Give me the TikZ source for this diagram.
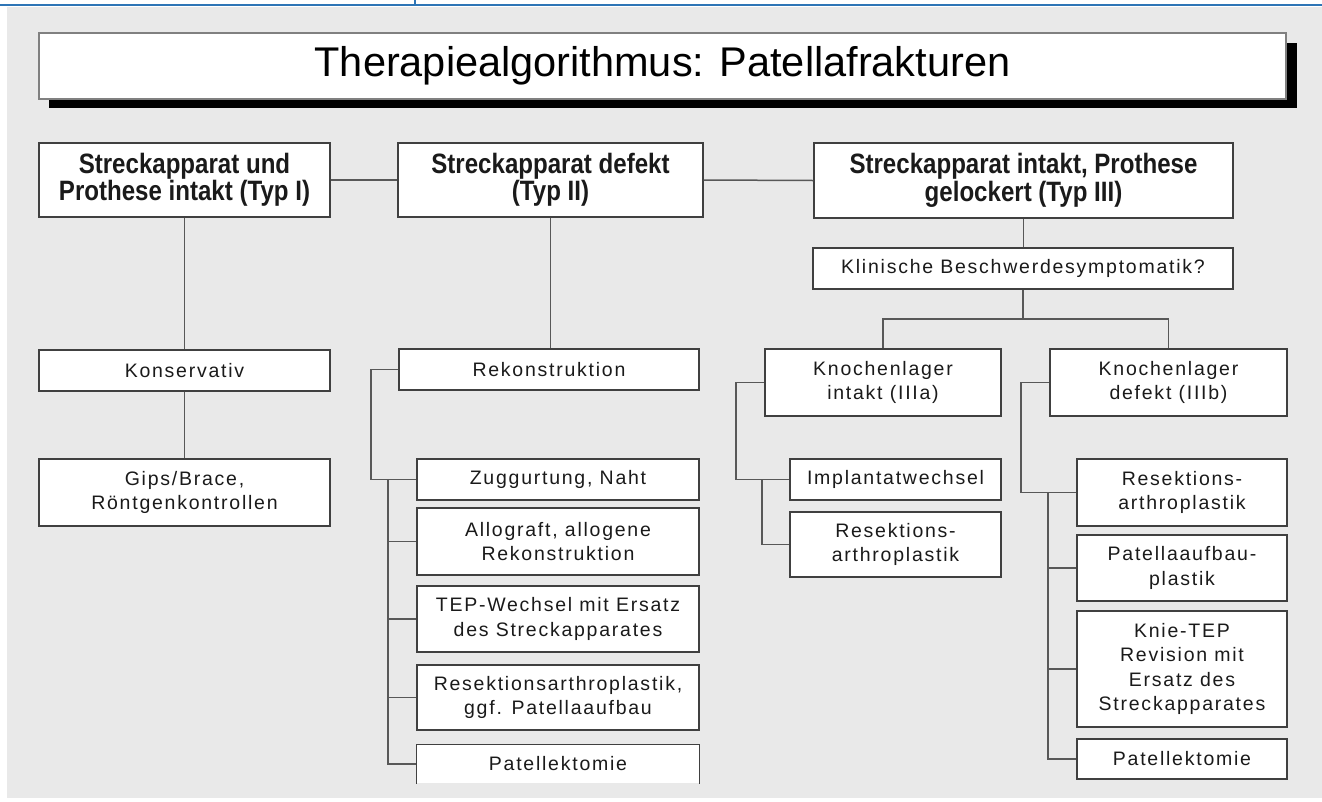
\documentclass[tikz,border=0pt]{standalone}
\usepackage{fontspec}
\setmainfont{Liberation Sans}
\newfontfamily\hdfont[FakeStretch=0.86]{Liberation Sans}
\newfontfamily\smfont[LetterSpace=9]{Liberation Sans}
\definecolor{bg}{HTML}{E9E9E9}
\definecolor{bord}{HTML}{404040}
\definecolor{conn}{HTML}{585858}
\definecolor{txt}{HTML}{1A1A1A}
\definecolor{topblue}{HTML}{2E75B6}
\tikzset{
  bx/.style 2 args={draw=bord, fill=white, line width=1.2pt, inner sep=0pt,
    align=center, text=txt, minimum width=#1, minimum height=#2},
  hd/.style={font=\hdfont\bfseries\fontsize{28}{27.5}\selectfont},
  sm/.style={font=\smfont\fontsize{19.5}{24.5}\selectfont},
  ln/.style={draw=conn, line width=1.5pt},
  blueline/.style={draw=topblue, line width=2pt}
}
\begin{document}
\begin{tikzpicture}[x=1pt,y=-1pt]
\useasboundingbox (0,0) rectangle (1322,801);
\fill[white] (0,0) rectangle (1322,801);
\fill[bg] (7,7) rectangle (1322,798);
\draw[blueline] (0,5) -- (1322,5);
\draw[topblue, line width=1.2pt] (415,0) -- (415,5);

% title with shadow
\fill[black] (49,43) rectangle (1297,108);
\node[draw=gray, fill=white, line width=1.2pt, inner sep=0pt, minimum width=1247pt,
  minimum height=66pt, font=\fontsize{41.5}{46}\selectfont, text=black] (title) at (662.5,66)
  {Therapiealgorithmus: Patellafrakturen};

% header boxes
\node[bx={291pt}{74pt}, hd] (h1) at (184.5,180) {Streckapparat und\\Prothese intakt (Typ I)};
\node[bx={305pt}{74pt}, hd] (h2) at (550.5,180) {Streckapparat defekt\\(Typ II)};
\node[bx={419pt}{75pt}, hd] (h3) at (1023.5,180.5) {Streckapparat intakt, Prothese\\gelockert (Typ III)};

% column I
\node[bx={291pt}{41pt}, sm] (kons) at (184.5,370.5) {Konservativ};
\node[bx={291pt}{67pt}, sm] (gips) at (184.5,492.5) {Gips/Brace,\\Röntgenkontrollen};

% column II
\node[bx={300pt}{41pt}, sm] (rekon) at (549,369.5) {Rekonstruktion};
\node[bx={282pt}{41pt}, sm] (zug) at (558,479.5) {Zuggurtung, Naht};
\node[bx={282pt}{67pt}, sm] (allo) at (558,541.5) {Allograft, allogene\\Rekonstruktion};
\node[bx={282pt}{66pt}, sm] (tep) at (558,619) {TEP-Wechsel mit Ersatz\\des Streckapparates};
\node[bx={282pt}{65pt}, sm] (res2) at (558,697.5) {Resektionsarthroplastik,\\ggf. Patellaaufbau};
\node[bx={282pt}{38pt}, sm, draw=none] (pat2) at (558,764) {Patellektomie};
\draw[bord, line width=1.2pt] (pat2.south west) -- (pat2.north west) -- (pat2.north east) -- (pat2.south east);

% column III
\node[bx={420pt}{41pt}, sm] (klin) at (1023,268.5) {Klinische Beschwerdesymptomatik?};
\node[bx={236pt}{67pt}, sm] (ki) at (883,382.5) {Knochenlager\\intakt (IIIa)};
\node[bx={237pt}{67pt}, sm] (kd) at (1168.5,382.5) {Knochenlager\\defekt (IIIb)};
\node[bx={211pt}{41pt}, sm] (imp) at (895.5,479.5) {Implantatwechsel};
\node[bx={211pt}{65pt}, sm] (res3a) at (895.5,544.5) {Resektions-\\arthroplastik};
\node[bx={210pt}{67pt}, sm] (res3b) at (1182,492.5) {Resektions-\\arthroplastik};
\node[bx={210pt}{66pt}, sm] (paa) at (1182,568) {Patellaaufbau-\\plastik};
\node[bx={210pt}{116pt}, sm] (knie) at (1182,669) {Knie-TEP\\Revision mit\\Ersatz des\\Streckapparates};
\node[bx={210pt}{40pt}, sm] (pat3) at (1182,759) {Patellektomie};

% connectors: header row
\draw[ln] (h1.east) -- (h2.west);
\draw[ln] (h2.east) -- (h3.west);
\draw[ln] (h1.south) -- (kons.north);
\draw[ln] (kons.south) -- (gips.north);
\draw[ln] (h2.south) -- (h2.south |- rekon.north);
\draw[ln] (h3.south) -- (h3.south |- klin.north);

% column II tree
\coordinate (rt) at (371,369.5);
\coordinate (rb) at (388,479.5);
\draw[ln] (rekon.west) -- (rt) |- (zug.west);
\draw[ln] (rb) |- (pat2.west);
\draw[ln] (rb |- allo.west) -- (allo.west);
\draw[ln] (rb |- tep.west) -- (tep.west);
\draw[ln] (rb |- res2.west) -- (res2.west);

% column III tree
\coordinate (kj) at (1023,319);
\draw[ln] (klin.south) -- (kj);
\draw[ln] (ki.north) |- (kj) -| (kd.north);

\coordinate (kit) at (736,382.5);
\coordinate (kib) at (762,479.5);
\draw[ln] (ki.west) -- (kit) |- (imp.west);
\draw[ln] (kib) |- (res3a.west);

\coordinate (kdt) at (1021,382.5);
\coordinate (kdb) at (1048,492.5);
\draw[ln] (kd.west) -- (kdt) |- (res3b.west);
\draw[ln] (kdb) |- (pat3.west);
\draw[ln] (kdb |- paa.west) -- (paa.west);
\draw[ln] (kdb |- knie.west) -- (knie.west);
\end{tikzpicture}
\end{document}
